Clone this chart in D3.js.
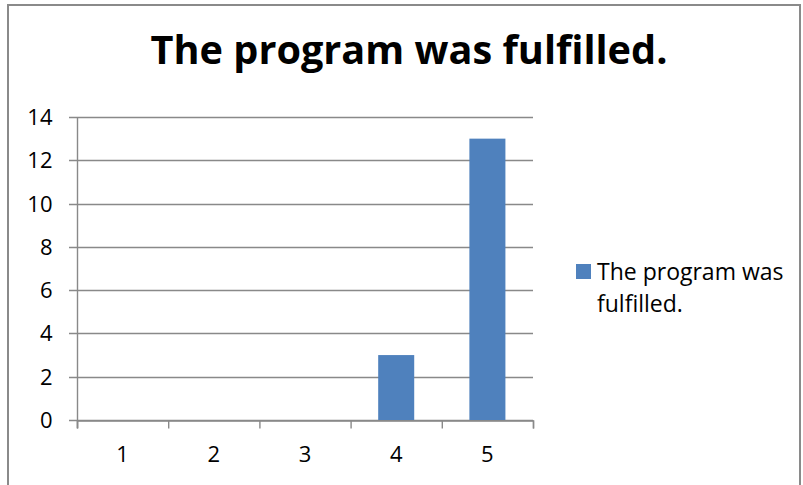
<!DOCTYPE html>
<html>
<head>
<meta charset="utf-8">
<script src="https://cdn.jsdelivr.net/npm/d3@7/dist/d3.min.js"></script>
<style>
  html, body { margin: 0; padding: 0; background: #fff; }
  svg { display: block; }
  text { font-family: "Open Sans", "Noto Sans", sans-serif; fill: #000; }
</style>
</head>
<body>
<svg id="chart" width="803" height="485"></svg>
<script>
const titleText = "The program was fulfilled.";
const categories = ["1", "2", "3", "4", "5"];
const values = [0, 0, 0, 3, 13];
const yTicks = [0, 2, 4, 6, 8, 10, 12, 14];
const legendLines = ["The program was", "fulfilled."];

const W = 803, H = 485;
const plot = { left: 77, right: 533, top: 117, bottom: 420 };
const barColor = "#4f81bd";
const gridColor = "#898989";

const svg = d3.select("#chart");

// outer frame
svg.append("path")
  .attr("d", `M8,${H + 2} L8,5 L800,5 L800,${H + 2}`)
  .attr("fill", "none")
  .attr("stroke", "#8a8a8a")
  .attr("stroke-width", 2);

// scales
const y = d3.scaleLinear().domain([0, 14]).range([plot.bottom, plot.top]);
const x = d3.scaleBand().domain(categories)
  .range([plot.left, plot.right])
  .paddingInner(0.605).paddingOuter(0.3025);
const xb = d3.scaleLinear().domain([0, categories.length]).range([plot.left, plot.right]);

// gridlines
svg.append("g").selectAll("line").data(yTicks).join("line")
  .attr("x1", plot.left - 8).attr("x2", plot.right)
  .attr("y1", d => Math.round(y(d)) + 0.5).attr("y2", d => Math.round(y(d)) + 0.5)
  .attr("stroke", gridColor).attr("stroke-width", 1.4);

// bars
svg.append("g").selectAll("rect").data(values).join("rect")
  .attr("x", (d, i) => x(categories[i]))
  .attr("width", x.bandwidth())
  .attr("y", d => y(d))
  .attr("height", d => y(0) - y(d))
  .attr("fill", barColor);

// y axis
const yAxis = svg.append("g")
  .attr("transform", `translate(${plot.left + 0.5},0)`)
  .call(d3.axisLeft(y).tickValues(yTicks).tickSize(0).tickPadding(25));
yAxis.select(".domain").remove();
yAxis.selectAll("text")
  .style("font-family", '"Open Sans", sans-serif')
  .style("font-size", "22px")
  .attr("fill", "#000")
  .attr("dy", "0.34em");
svg.append("line")
  .attr("x1", plot.left + 0.5).attr("x2", plot.left + 0.5)
  .attr("y1", plot.top).attr("y2", plot.bottom + 8)
  .attr("stroke", gridColor).attr("stroke-width", 1.4);

// x axis tick marks at category boundaries
const xTicks = svg.append("g")
  .attr("transform", `translate(0,${Math.round(y(0)) + 0.5})`)
  .call(d3.axisBottom(xb).tickValues(d3.range(categories.length + 1)).tickSize(8).tickFormat(""));
xTicks.select(".domain").attr("stroke", gridColor).attr("stroke-width", 1.4);
xTicks.selectAll(".tick line").attr("stroke", gridColor).attr("stroke-width", 1.4);

// x labels
const xAxis = svg.append("g")
  .attr("transform", `translate(0,${plot.bottom})`)
  .call(d3.axisBottom(x).tickSize(0).tickPadding(26));
xAxis.select(".domain").remove();
xAxis.selectAll("text")
  .style("font-family", '"Open Sans", sans-serif')
  .style("font-size", "22px")
  .attr("fill", "#000");

// title
const title = svg.append("text")
  .attr("x", 409).attr("y", 64)
  .attr("text-anchor", "middle")
  .style("font-weight", "bold")
  .style("font-size", "38px")
  .text(titleText);
const tw = title.node().getComputedTextLength();
title.style("font-size", (38 * 517 / tw).toFixed(2) + "px");

// legend
svg.append("rect")
  .attr("x", 576).attr("y", 264).attr("width", 15).attr("height", 15)
  .attr("fill", barColor);
const lg = svg.append("g");
legendLines.forEach((t, i) => {
  lg.append("text")
    .attr("x", 597).attr("y", 280 + i * 32)
    .style("font-size", "23px")
    .text(t);
});
</script>
</body>
</html>
